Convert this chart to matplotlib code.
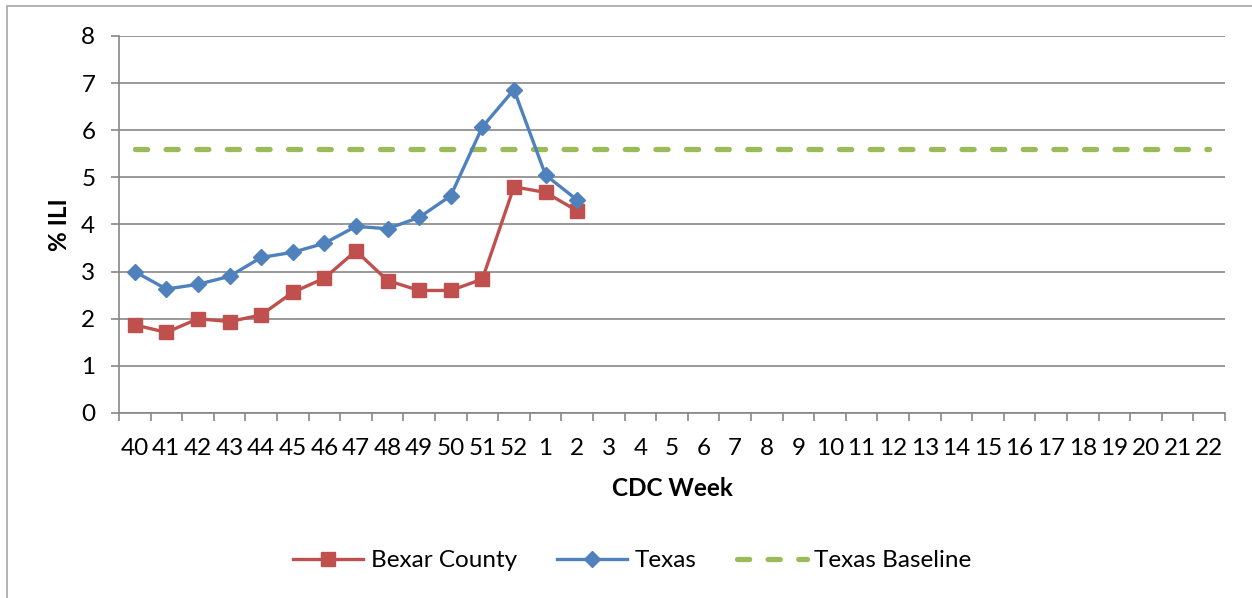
import matplotlib.pyplot as plt
import matplotlib.patches as patches
import numpy as np

plt.rcParams['font.family'] = ['Lato', 'DejaVu Sans']

# CDC weeks 40-52 then 1-22
weeks = [str(w) for w in range(40, 53)] + [str(w) for w in range(1, 23)]
bexar = [1.87, 1.71, 2.00, 1.94, 2.08, 2.56, 2.86, 3.44, 2.81, 2.60, 2.60, 2.84, 4.80, 4.68, 4.29]
texas = [3.00, 2.63, 2.73, 2.90, 3.30, 3.41, 3.60, 3.96, 3.91, 4.15, 4.61, 6.07, 6.86, 5.05, 4.52]
baseline = 5.6

gridc = '#878787'
fs = 17.5

fig = plt.figure(figsize=(12.52, 5.98), dpi=100)
ax = fig.add_axes([0.095, 0.3094, 0.8834, 0.6304])

# outer chart border
fig.patches.append(patches.Rectangle((7/1252, -0.01), 1.0, 1 - 6/598 + 0.01,
                                     transform=fig.transFigure, fill=False,
                                     edgecolor='#a6a6a6', lw=1.2))

x = np.arange(len(weeks))
ax.plot(x[:len(bexar)], bexar, color='#C0504D', lw=2.4, marker='s', ms=10,
        label='Bexar County', zorder=3)
ax.plot(x[:len(texas)], texas, color='#4F81BD', lw=2.4, marker='D', ms=8,
        label='Texas', zorder=3)
ax.plot(x, [baseline] * len(weeks), color='#9BBB59', lw=3.8, ls=(0, (2.3, 3.5)),
        dash_capstyle='round', label='Texas Baseline', zorder=2)

ax.set_xlim(-0.5, len(weeks) - 0.5)
ax.set_ylim(0, 8)
ax.set_yticks(range(0, 9))
ax.set_xticks(x)
ax.set_xticklabels(weeks)
ax.set_xticks(np.arange(-0.5, len(weeks)), minor=True)
ax.tick_params(axis='x', which='major', length=0, labelsize=fs, pad=18)
ax.tick_params(axis='x', which='minor', length=5.5, color=gridc, width=1.2)
ax.tick_params(axis='y', length=6, color=gridc, width=1.2, labelsize=fs, pad=11)

ax.grid(axis='y', color=gridc, lw=1.2)
ax.set_axisbelow(True)
for s in ['top', 'right']:
    ax.spines[s].set_visible(False)
for s in ['left', 'bottom']:
    ax.spines[s].set_color(gridc)
    ax.spines[s].set_linewidth(1.2)

ax.set_xlabel('CDC Week', fontsize=fs, fontweight='bold', labelpad=13)
ax.set_ylabel('% ILI', fontsize=fs, fontweight='bold', labelpad=7)

fig.legend(loc='center', bbox_to_anchor=(0.505, 0.062), ncol=3, frameon=False,
           fontsize=fs, handlelength=2.9, columnspacing=1.65, handletextpad=0.3)

fig.savefig('out.png', dpi=100)
